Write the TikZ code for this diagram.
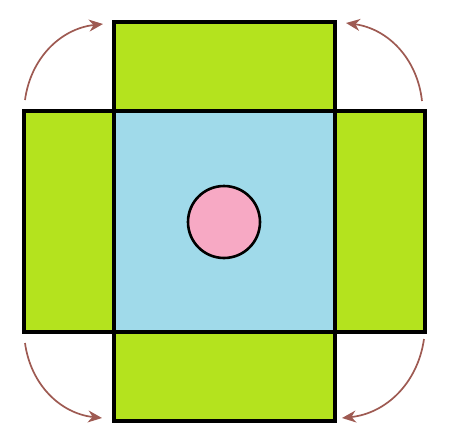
\documentclass[tikz,border=0pt]{standalone}
\usepackage{tikz}
\usetikzlibrary{arrows.meta,positioning}
\definecolor{flapgreen}{HTML}{B4E31E}
\definecolor{baseblue}{HTML}{A0DAEA}
\definecolor{holepink}{HTML}{F7A9C4}
\definecolor{foldred}{HTML}{9E5A52}
\begin{document}
\begin{tikzpicture}[>={Stealth[length=14pt,width=12pt]}, x=1pt, y=-1pt]
      \tikzstyle{panel} = [draw, line width=3.2pt, rectangle, inner sep=0pt, outer sep=0pt]
      \tikzstyle{fold} = [->, foldred, line width=1.7pt, bend left=38]
      \useasboundingbox (0,0) rectangle (455,447);
      \path
	node[panel, fill=baseblue, minimum width=221pt, minimum height=221pt] (base) at (224.5,221.5) {}
	node[panel, fill=flapgreen, minimum width=221pt, minimum height=89pt, above=0pt of base] (top) {}
	node[panel, fill=flapgreen, minimum width=221pt, minimum height=89pt, below=0pt of base] (bottom) {}
	node[panel, fill=flapgreen, minimum width=90pt, minimum height=221pt, left=0pt of base] (left) {}
	node[panel, fill=flapgreen, minimum width=90pt, minimum height=221pt, right=0pt of base] (right) {}
	node[draw, line width=2.6pt, circle, fill=holepink, minimum size=72pt, inner sep=0pt] (hole) at (224,222) {}
	;
      \coordinate (tl1) at (25,100);
      \coordinate (tl2) at (103,24);
      \coordinate (tr1) at (422,101);
      \coordinate (tr2) at (346,23);
      \coordinate (bl1) at (25,343);
      \coordinate (bl2) at (102,418);
      \coordinate (br1) at (424,339);
      \coordinate (br2) at (342,418);
      \draw[fold] (tl1) to (tl2);
      \draw[fold, bend left=-38] (tr1) to (tr2);
      \draw[fold, bend left=-38] (bl1) to (bl2);
      \draw[fold] (br1) to (br2);
    \end{tikzpicture}
\end{document}
